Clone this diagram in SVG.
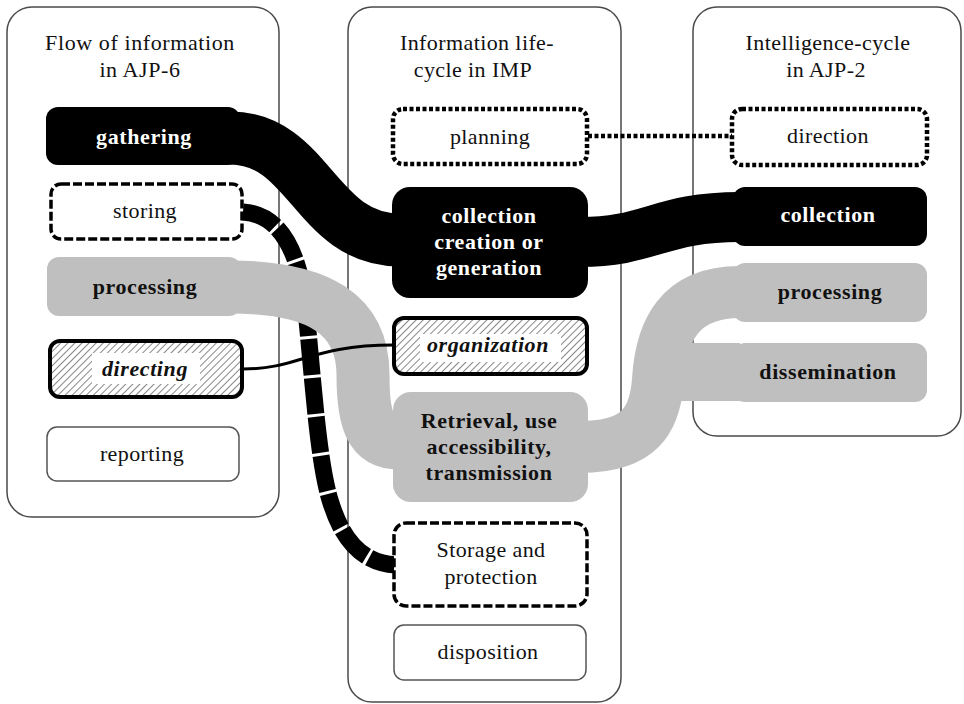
<svg xmlns="http://www.w3.org/2000/svg" width="964" height="704" viewBox="0 0 964 704">
<style>
text{font-family:"Liberation Serif","Times New Roman",serif;font-size:22px;text-anchor:middle;fill:#111;letter-spacing:0.4px}
.b{font-weight:bold;letter-spacing:0.6px}
.i{font-style:italic}
.w{fill:#fff}
.panel{fill:#fff;stroke:#4a4a4a;stroke-width:1.5}
.blk{fill:#000}
.gry{fill:#bfbfbf}
.dash{fill:#fff;stroke:#000;stroke-width:3.5;stroke-dasharray:9 3}
.dot{fill:#fff;stroke:#000;stroke-width:4.5;stroke-dasharray:4 2.5}
.hat{fill:url(#hatch);stroke:#000;stroke-width:4}
.thin{fill:#fff;stroke:#555;stroke-width:1.5}
.band{fill:none;stroke-linecap:butt}
</style>
<defs>
<pattern id="hatch" patternUnits="userSpaceOnUse" width="5" height="5" patternTransform="rotate(45)">
<rect width="5" height="5" fill="#fff"/>
<line x1="0" y1="0" x2="0" y2="5" stroke="#555" stroke-width="1.4"/>
</pattern>
</defs>
<rect width="964" height="704" fill="#fff"/>
<g id="panels">
<rect class="panel" x="7" y="7" width="272" height="510" rx="25"/>
<rect class="panel" x="348" y="7" width="273" height="695" rx="24"/>
<rect class="panel" x="693" y="7" width="268" height="429" rx="24"/>
<text x="140" y="50" style="letter-spacing:0.6px">Flow of information</text>
<text x="140" y="77" style="letter-spacing:0.6px">in AJP-6</text>
<text x="477" y="50">Information life-</text>
<text x="473" y="77">cycle in IMP</text>
<text x="828" y="50">Intelligence-cycle</text>
<text x="826" y="77">in AJP-2</text>
</g>
<g id="connectors">
<path class="band" d="M243 212 C285 215 300 260 306 310 C313 380 318 460 330 500 C342 540 362 563 396 565" stroke="#000" stroke-width="17" stroke-dasharray="36 3"/>
<path class="band" d="M230 138 C310 138 315 240 400 240" stroke="#000" stroke-width="53"/>
<path class="band" d="M580 242 C650 242 660 217 740 217" stroke="#000" stroke-width="50"/>
<path class="band" d="M230 287 C320 287 363 315 363 375 C363 420 370 443 400 443" stroke="#bfbfbf" stroke-width="53"/>
<path class="band" d="M580 447 C640 447 655 420 658 380 C661 330 680 292 740 292" stroke="#bfbfbf" stroke-width="52"/>
<path class="band" d="M655 372 L740 372" stroke="#bfbfbf" stroke-width="58"/>
<path class="band" d="M243 369 C300 369 310 345 394 345" stroke="#000" stroke-width="3"/>
<path class="band" d="M588 136 L732 136" stroke="#000" stroke-width="4.5" stroke-dasharray="4 2.5"/>
</g>
<g id="gathering"><rect class="blk" x="46" y="107" width="194" height="58" rx="12"/><text class="b w" x="144" y="144">gathering</text></g>
<g id="storing"><rect class="dash" x="51" y="184" width="191" height="55" rx="10"/><text x="145" y="218">storing</text></g>
<g id="processing-l"><rect class="gry" x="47" y="257" width="194" height="59" rx="12"/><text class="b" x="145" y="294">processing</text></g>
<g id="directing"><rect class="hat" x="50" y="341" width="192" height="56" rx="10"/><rect x="92" y="353" width="108" height="31" fill="#fff"/><text class="b i" x="145" y="376">directing</text></g>
<g id="reporting"><rect class="thin" x="47" y="427" width="192" height="54" rx="10"/><text x="142" y="461">reporting</text></g>
<g id="planning"><rect class="dot" x="393" y="109" width="194" height="55" rx="10"/><text x="490" y="144">planning</text></g>
<g id="collection-creation"><rect class="blk" x="392" y="187" width="196" height="111" rx="18"/><text class="b w" x="489" y="223">collection</text><text class="b w" x="489" y="249">creation or</text><text class="b w" x="489" y="275">generation</text></g>
<g id="organization"><rect class="hat" x="394" y="318" width="193" height="56" rx="10"/><rect x="420" y="334" width="141" height="28" fill="#fff"/><text class="b i" x="488" y="352">organization</text></g>
<g id="retrieval"><rect class="gry" x="393" y="392" width="195" height="110" rx="18"/><text class="b" x="489" y="428">Retrieval, use</text><text class="b" x="489" y="454">accessibility,</text><text class="b" x="489" y="480">transmission</text></g>
<g id="storage"><rect class="dash" x="394" y="523" width="193" height="83" rx="12"/><text x="491" y="557">Storage and</text><text x="491" y="584">protection</text></g>
<g id="disposition"><rect class="thin" x="394" y="625" width="192" height="55" rx="10"/><text x="488" y="659">disposition</text></g>
<g id="direction"><rect class="dot" x="732" y="109" width="195" height="56" rx="10"/><text x="828" y="143">direction</text></g>
<g id="collection"><rect class="blk" x="733" y="187" width="194" height="59" rx="12"/><text class="b w" x="828" y="222">collection</text></g>
<g id="processing-r"><rect class="gry" x="733" y="263" width="194" height="59" rx="12"/><text class="b" x="830" y="299">processing</text></g>
<g id="dissemination"><rect class="gry" x="733" y="343" width="194" height="59" rx="12"/><text class="b" x="828" y="379">dissemination</text></g>
</svg>
